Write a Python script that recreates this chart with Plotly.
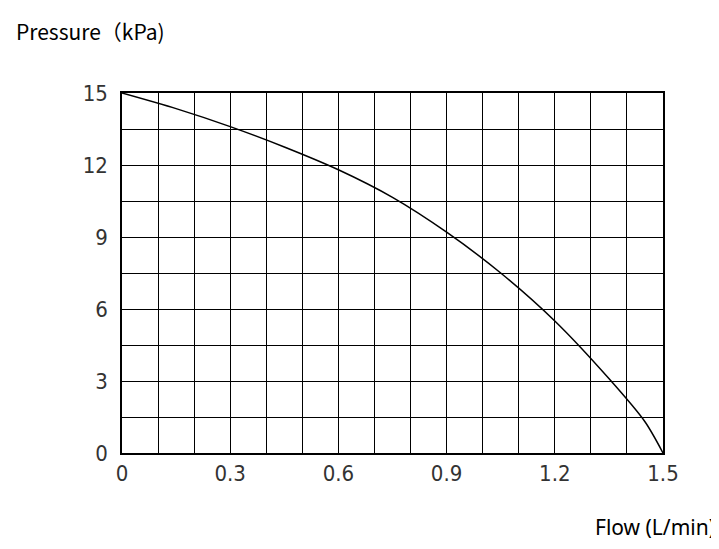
import plotly.graph_objects as go

flow = [0, 0.15, 0.3, 0.45, 0.6, 0.75, 0.9, 1.05, 1.2, 1.35, 1.45, 1.5]
pressure = [15, 14.35, 13.6, 12.75, 11.8, 10.65, 9.2, 7.5, 5.5, 3.1, 1.3, 0]
xticks = [0, 0.3, 0.6, 0.9, 1.2, 1.5]
yticks = [0, 3, 6, 9, 12, 15]

fig = go.Figure(go.Scatter(x=flow, y=pressure, mode="lines",
                           line=dict(color="black", width=1.5, shape="spline", smoothing=0.8)))
fig.update_layout(
    width=719, height=549, plot_bgcolor="white", paper_bgcolor="white",
    margin=dict(l=114, r=64, t=85, b=104, autoexpand=False), showlegend=False,
    font=dict(family="DejaVu Sans", color="#444"),
)
axcommon = dict(showgrid=True, gridcolor="black", gridwidth=1, zeroline=False,
                showline=True, linecolor="black", linewidth=1.5, mirror=True, automargin=False,
                ticks="", tickfont=dict(size=22, family="DejaVu Sans Condensed", color="#333"))
fig.update_xaxes(range=[0, 1.5], tickvals=xticks, ticktext=[str(v) for v in xticks], **axcommon)
fig.update_yaxes(range=[0, 15], tickvals=yticks, ticktext=[str(v) for v in yticks], ticklabelstandoff=8, **axcommon)
fig.update_xaxes(minor=dict(dtick=0.1, showgrid=True, gridcolor="black", gridwidth=1, tick0=0))
fig.update_yaxes(minor=dict(dtick=1.5, showgrid=True, gridcolor="black", gridwidth=1, tick0=0))
fig.add_annotation(text="Pressure（kPa)", xref="paper", yref="paper", x=-0.2, y=1.22, xanchor="left",
                   showarrow=False, font=dict(size=21, color="black", family="Noto Sans CJK SC"))
fig.add_annotation(text="Flow (L/min)", xref="paper", yref="paper", x=1.1, y=-0.25, xanchor="right",
                   showarrow=False, font=dict(size=21, color="black", family="Noto Sans"))
fig.write_html("out.html")
